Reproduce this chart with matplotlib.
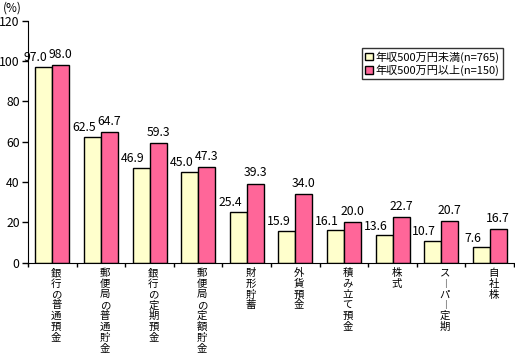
import numpy as np
import matplotlib.pyplot as plt

plt.rcParams['font.family'] = ['Noto Sans CJK JP', 'DejaVu Sans']

# data
categories = ['銀行の普通預金', '郵便局の普通貯金', '銀行の定期預金', '郵便局の定額貯金',
              '財形貯蓄', '外貨預金', '積み立て預金', '株式', 'スーパー定期', '自社株']
under_500 = [97.0, 62.5, 46.9, 45.0, 25.4, 15.9, 16.1, 13.6, 10.7, 7.6]
over_500 = [98.0, 64.7, 59.3, 47.3, 39.3, 34.0, 20.0, 22.7, 20.7, 16.7]
series_names = ['年収500万円未満(n=765)', '年収500万円以上(n=150)']

yellow = '#FFFFCC'
pink = '#FF6699'

fig = plt.figure(figsize=(5.15, 3.6), dpi=100)
ax = fig.add_axes([0.0544, 0.270, 0.9437, 0.6725])

x = np.arange(len(categories))
w = 0.35
b1 = ax.bar(x - w / 2, under_500, w, color=yellow, edgecolor='black', linewidth=1.0, label=series_names[0])
b2 = ax.bar(x + w / 2, over_500, w, color=pink, edgecolor='black', linewidth=1.0, label=series_names[1])

for rect, v in zip(b1, under_500):
    ax.annotate(f'{v:.1f}', (rect.get_x() + rect.get_width() / 2, v),
                xytext=(-6, 2), textcoords='offset points',
                ha='center', va='bottom', fontsize=8.8)
for rect, v in zip(b2, over_500):
    ax.annotate(f'{v:.1f}', (rect.get_x() + rect.get_width() / 2, v),
                xytext=(0, 3), textcoords='offset points',
                ha='center', va='bottom', fontsize=8.8)

ax.set_xlim(-0.5, len(categories) - 0.5)
ax.set_ylim(0, 120)
ax.set_yticks(range(0, 121, 20))
ax.tick_params(axis='y', labelsize=8.8, length=4, width=1, direction='out', pad=2)

# boundary ticks on the x axis, vertical stacked labels
ax.set_xticks(np.arange(len(categories) + 1) - 0.5)
ax.set_xticklabels([])
ax.tick_params(axis='x', length=3, width=1, direction='out')
for i, c in enumerate(categories):
    label = '\n'.join('︱' if ch == 'ー' else ch for ch in c)
    ax.text(i + 0.08, -2.5, label, ha='center', va='top', fontsize=7.5,
            linespacing=1.1, transform=ax.transData)

ax.spines['top'].set_visible(False)
ax.spines['right'].set_visible(False)

fig.text(0.005, 0.995, '(%)', ha='left', va='top', fontsize=8.5)

leg = fig.legend(loc='upper right', bbox_to_anchor=(0.976, 0.866), fontsize=8,
                 frameon=True, fancybox=False, edgecolor='black', handlelength=0.7,
                 handleheight=0.7, handletextpad=0.3, borderpad=0.25, labelspacing=0.2,
                 borderaxespad=0)
leg.get_frame().set_linewidth(1.0)

fig.savefig('out.png', dpi=100)
